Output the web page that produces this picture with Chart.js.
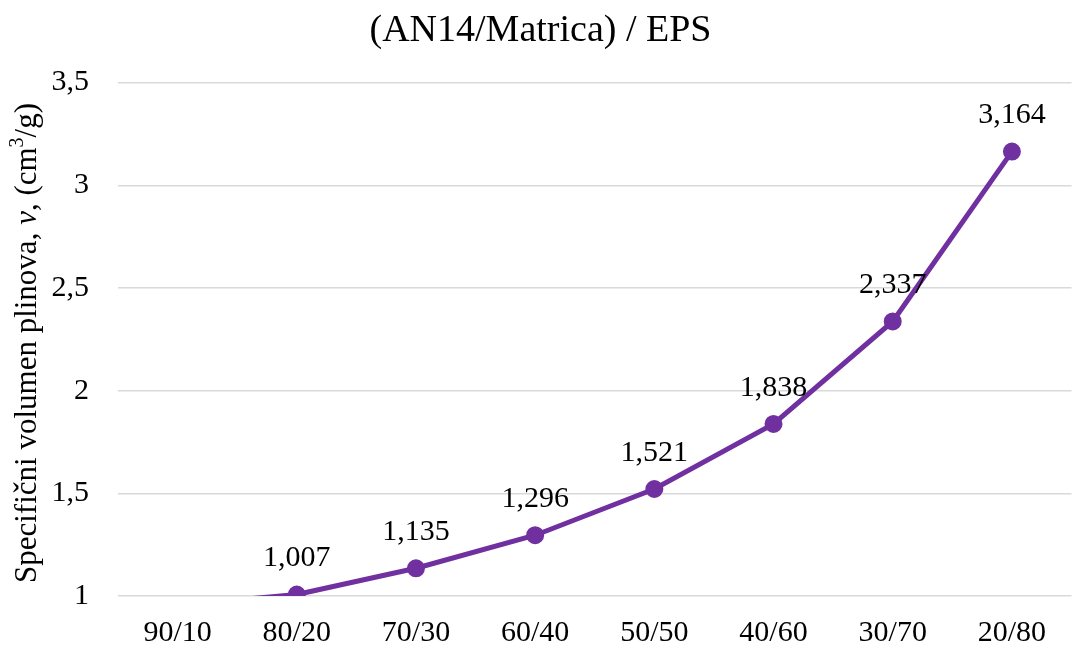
<!DOCTYPE html>
<html>
<head>
<meta charset="utf-8">
<script src="https://cdn.jsdelivr.net/npm/chart.js@4.4.0/dist/chart.umd.min.js"></script>
<style>
  html, body { margin: 0; padding: 0; background: #fff; }
  #wrap { width: 1083px; height: 650px; }
</style>
</head>
<body>
<div id="wrap"><canvas id="chart" width="1083" height="650"></canvas></div>
<script>
// chart data
const categories = ['90/10', '80/20', '70/30', '60/40', '50/50', '40/60', '30/70', '20/80'];
const volumes = [0.955, 1.007, 1.135, 1.296, 1.521, 1.838, 2.337, 3.164];
const yTicks = [1, 1.5, 2, 2.5, 3, 3.5];

const purple = '#7030A0';
const serif = "'Liberation Serif', 'Times New Roman', serif";

const fmt = v => String(v).replace('.', ',');

// value labels above points (skip those outside the axis range)
const pointLabels = {
  id: 'pointLabels',
  afterDatasetsDraw(chart) {
    const ctx = chart.ctx;
    const meta = chart.getDatasetMeta(0);
    const yScale = chart.scales.y;
    ctx.save();
    ctx.font = '30px ' + serif;
    ctx.fillStyle = '#000';
    ctx.textAlign = 'center';
    ctx.textBaseline = 'middle';
    meta.data.forEach((pt, i) => {
      const v = volumes[i];
      if (v < yScale.min || v > yScale.max) return;
      ctx.fillText(v.toFixed(3).replace('.', ','), pt.x, pt.y - 36);
    });
    ctx.restore();
  }
};

// y-axis title with italic v and superscript 3
const yTitle = {
  id: 'yTitle',
  afterDraw(chart) {
    const ctx = chart.ctx;
    const size = 31;
    const parts = [
      { t: 'Specifični volumen plinova, ', f: size + 'px ' + serif, dy: 0 },
      { t: 'v', f: 'italic ' + size + 'px ' + serif, dy: 0 },
      { t: ', (cm', f: size + 'px ' + serif, dy: 0 },
      { t: '3', f: Math.round(size * 0.65) + 'px ' + serif, dy: -10 },
      { t: '/g)', f: size + 'px ' + serif, dy: 0 }
    ];
    ctx.save();
    let total = 0;
    parts.forEach(p => { ctx.font = p.f; p.w = ctx.measureText(p.t).width; total += p.w; });
    ctx.translate(28, 343);
    ctx.rotate(-Math.PI / 2);
    ctx.fillStyle = '#000';
    ctx.textBaseline = 'middle';
    ctx.textAlign = 'left';
    let x = -total / 2;
    parts.forEach(p => {
      ctx.font = p.f;
      ctx.fillText(p.t, x, p.dy);
      x += p.w;
    });
    ctx.restore();
  }
};

new Chart(document.getElementById('chart'), {
  type: 'line',
  data: {
    labels: categories,
    datasets: [{
      data: volumes,
      borderColor: purple,
      backgroundColor: purple,
      borderWidth: 5,
      pointRadius: 6.5,
      pointHoverRadius: 6.5,
      pointBackgroundColor: purple,
      pointBorderColor: purple,
      tension: 0,
      clip: { left: 10, right: 10, top: 10, bottom: 0 }
    }]
  },
  options: {
    responsive: false,
    animation: false,
    layout: { padding: { left: 0, right: 2, top: 0, bottom: 0 } },
    plugins: {
      legend: { display: false },
      tooltip: { enabled: false },
      title: {
        display: true,
        text: '(AN14/Matrica) / EPS',
        color: '#000',
        font: { family: serif, size: 38, weight: 'normal' },
        padding: { top: 8, bottom: 29 }
      }
    },
    scales: {
      x: {
        offset: true,
        grid: { display: false, drawTicks: false },
        border: { display: false },
        afterFit(scale) { scale.height = 54; },
        ticks: {
          color: '#000',
          font: { family: serif, size: 30 },
          padding: 19,
          maxRotation: 0
        }
      },
      y: {
        min: yTicks[0],
        max: yTicks[yTicks.length - 1],
        afterBuildTicks(scale) {
          scale.ticks = yTicks.map(v => ({ value: v }));
        },
        afterFit(scale) { scale.width = 118; },
        grid: { color: '#d9d9d9', lineWidth: 1.5, drawTicks: false },
        border: { display: false },
        ticks: {
          color: '#000',
          font: { family: serif, size: 30 },
          padding: 29,
          callback: v => fmt(v)
        }
      }
    }
  },
  plugins: [pointLabels, yTitle]
});
</script>
</body>
</html>
